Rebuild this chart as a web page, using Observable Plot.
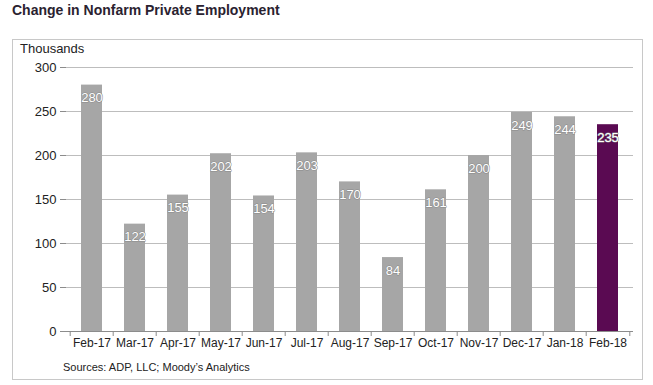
<!DOCTYPE html>
<html><head><meta charset="utf-8">
<script src="https://cdn.jsdelivr.net/npm/d3@7"></script>
<script src="https://cdn.jsdelivr.net/npm/@observablehq/plot@0.6"></script>
<style>
body{margin:0;background:#fff;font-family:Arial,"Liberation Sans",sans-serif;}
#wrap{position:relative;width:653px;height:385px;overflow:hidden;}
#title{position:absolute;left:12px;top:2px;font-weight:bold;font-size:14px;color:#2a2230;white-space:nowrap;}
#box{position:absolute;left:12px;top:39px;width:629px;height:339px;border:1px solid #c8c8c8;}
#units{position:absolute;left:20px;top:41px;font-size:13px;color:#222;}
#src{position:absolute;left:63px;top:361px;font-size:11px;color:#222;white-space:nowrap;}
#chart{position:absolute;left:0;top:0;}
</style></head>
<body>
<div id="wrap">
  <div id="box"></div>
  <div id="title">Change in Nonfarm Private Employment</div>
  <div id="units">Thousands</div>
  <div id="chart"></div>
  <div id="src">Sources: ADP, LLC; Moody’s Analytics</div>
</div>
<script>
const months = ["Feb-17","Mar-17","Apr-17","May-17","Jun-17","Jul-17","Aug-17","Sep-17","Oct-17","Nov-17","Dec-17","Jan-18","Feb-18"];
const values = [280,122,155,202,154,203,170,84,161,200,249,244,235];
const yTicks = [0,50,100,150,200,250,300];

const data = months.map((m,i)=>({month:m, value:values[i], latest: i===months.length-1}));
const W = 653, H = 385, ML = 66, MR = 20, MT = 67, MB = 54;
const step = (W - ML - MR) / months.length;

const chart = Plot.plot({
  width: W, height: H,
  marginLeft: ML, marginRight: MR, marginTop: MT, marginBottom: MB,
  style: {background: "none", fontFamily: "Arial, 'Liberation Sans', sans-serif", color: "#222"},
  x: {domain: months, padding: 0, axis: null, label: null},
  y: {domain: [0,300], axis: null, label: null},
  marks: [
    Plot.gridY(yTicks.filter(d=>d>0), {stroke: "#bdbdbd", strokeOpacity: 1}),
    Plot.barY(data, {x: "month", y: "value", fill: d => d.latest ? "#5a0a52" : "#a6a6a6", insetLeft: 11, insetRight: 11}),
    Plot.text(data, {x: "month", y: "value", text: d => String(d.value), dy: 13, fill: "white", stroke: "#8a8a8a", strokeWidth: 1, fontSize: 13}),
    Plot.ruleY([0], {stroke: "#8c8c8c"}),
    Plot.ruleX([0], {x: () => null, frameAnchor: "left", stroke: "#8c8c8c"}),
    Plot.axisY({ticks: yTicks, tickSize: 6, tickPadding: 4, fontSize: 13, stroke: "#8c8c8c", label: null, tickFormat: d=>String(d)}),
    Plot.axisX({tickSize: 0, tickPadding: 7, fontSize: 12, label: null}),
    Plot.ruleX(months, {x: d=>d, dx: -step/2, y1: 0, y2: 0, insetBottom: -5, stroke: "#8c8c8c"}),
    Plot.ruleX([months[months.length-1]], {x: d=>d, dx: step/2, y1: 0, y2: 0, insetBottom: -5, stroke: "#8c8c8c"})
  ]
});
document.getElementById("chart").appendChild(chart);
</script>
</body></html>
